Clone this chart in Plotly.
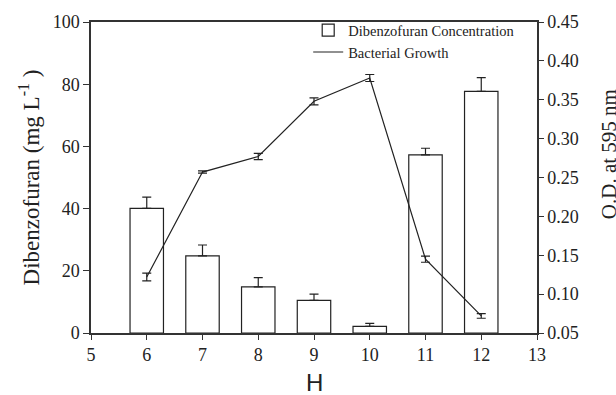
import plotly.graph_objects as go

ph = [6, 7, 8, 9, 10, 11, 12]
dbf_conc = [40.1, 24.8, 14.8, 10.5, 2.1, 57.3, 77.7]
dbf_err = [3.6, 3.5, 3.0, 2.0, 1.0, 2.1, 4.4]
od595 = [0.122, 0.257, 0.277, 0.348, 0.378, 0.145, 0.072]
od_err = [0.005, 0.0015, 0.004, 0.0045, 0.0045, 0.004, 0.003]

SERIF = "Liberation Serif, Times New Roman, serif"
AXC = "#333333"

fig = go.Figure()
fig.add_trace(go.Bar(
    x=ph, y=dbf_conc, width=0.6, name="Dibenzofuran Concentration",
    marker=dict(color="white", line=dict(color="#222222", width=1.2)),
    error_y=dict(type="data", array=dbf_err, arrayminus=[0]*len(dbf_err), symmetric=False,
                 color="#222222", thickness=1.2, width=4.5),
    yaxis="y",
))
fig.add_trace(go.Scatter(
    x=ph, y=od595, mode="lines", name="Bacterial Growth",
    line=dict(color="#222222", width=1.2),
    error_y=dict(type="data", array=od_err, color="#222222", thickness=1.2, width=4.5),
    yaxis="y2",
))

fig.update_layout(
    width=616, height=395,
    margin=dict(l=91, r=79, t=22, b=62),
    plot_bgcolor="white", paper_bgcolor="white",
    showlegend=True,
    legend=dict(x=0.487, y=1.025, xanchor="left", yanchor="top",
                font=dict(family=SERIF, size=14.5, color="#222222"),
                bgcolor="rgba(0,0,0,0)", tracegroupgap=0, itemwidth=30),
    xaxis=dict(range=[5, 13], dtick=1, tick0=5, showgrid=False, zeroline=False,
               showline=True, linecolor=AXC, linewidth=1.5, mirror=True,
               ticks="outside", ticklen=5, tickcolor=AXC, tickwidth=1.2,
               tickfont=dict(family=SERIF, size=18, color="#222222")),
    yaxis=dict(range=[0, 100], dtick=20, showgrid=False, zeroline=False,
               showline=True, linecolor=AXC, linewidth=1.5,
               ticks="outside", ticklen=6, tickcolor=AXC, tickwidth=1.2,
               tickfont=dict(family=SERIF, size=18, color="#222222")),
    yaxis2=dict(range=[0.05, 0.45], dtick=0.05, tick0=0.05, tickformat=".2f",
                overlaying="y", side="right", showgrid=False, zeroline=False,
                showline=True, linecolor=AXC, linewidth=1.5,
                ticks="outside", ticklen=5, tickcolor=AXC, tickwidth=1.2,
                tickfont=dict(family=SERIF, size=18, color="#222222")),
    annotations=[
        dict(text="Dibenzofuran (mg L<sup>-1</sup> )", textangle=-90, xref="paper", yref="paper",
             x=-0.137, y=0.5, showarrow=False, xanchor="center", yanchor="middle",
             font=dict(family=SERIF, size=23, color="#222222")),
        dict(text="O.D. at 595 nm", textangle=-90, xref="paper", yref="paper",
             x=1.1614, y=0.575, showarrow=False, xanchor="center", yanchor="middle",
             font=dict(family=SERIF, size=21, color="#222222")),
        dict(text="H", xref="paper", yref="paper", x=0.502, y=-0.1576,
             showarrow=False, xanchor="center", yanchor="middle",
             font=dict(family="Liberation Sans, Arial, sans-serif", size=24, color="#222222")),
    ],
)

fig.write_html("out.html")
